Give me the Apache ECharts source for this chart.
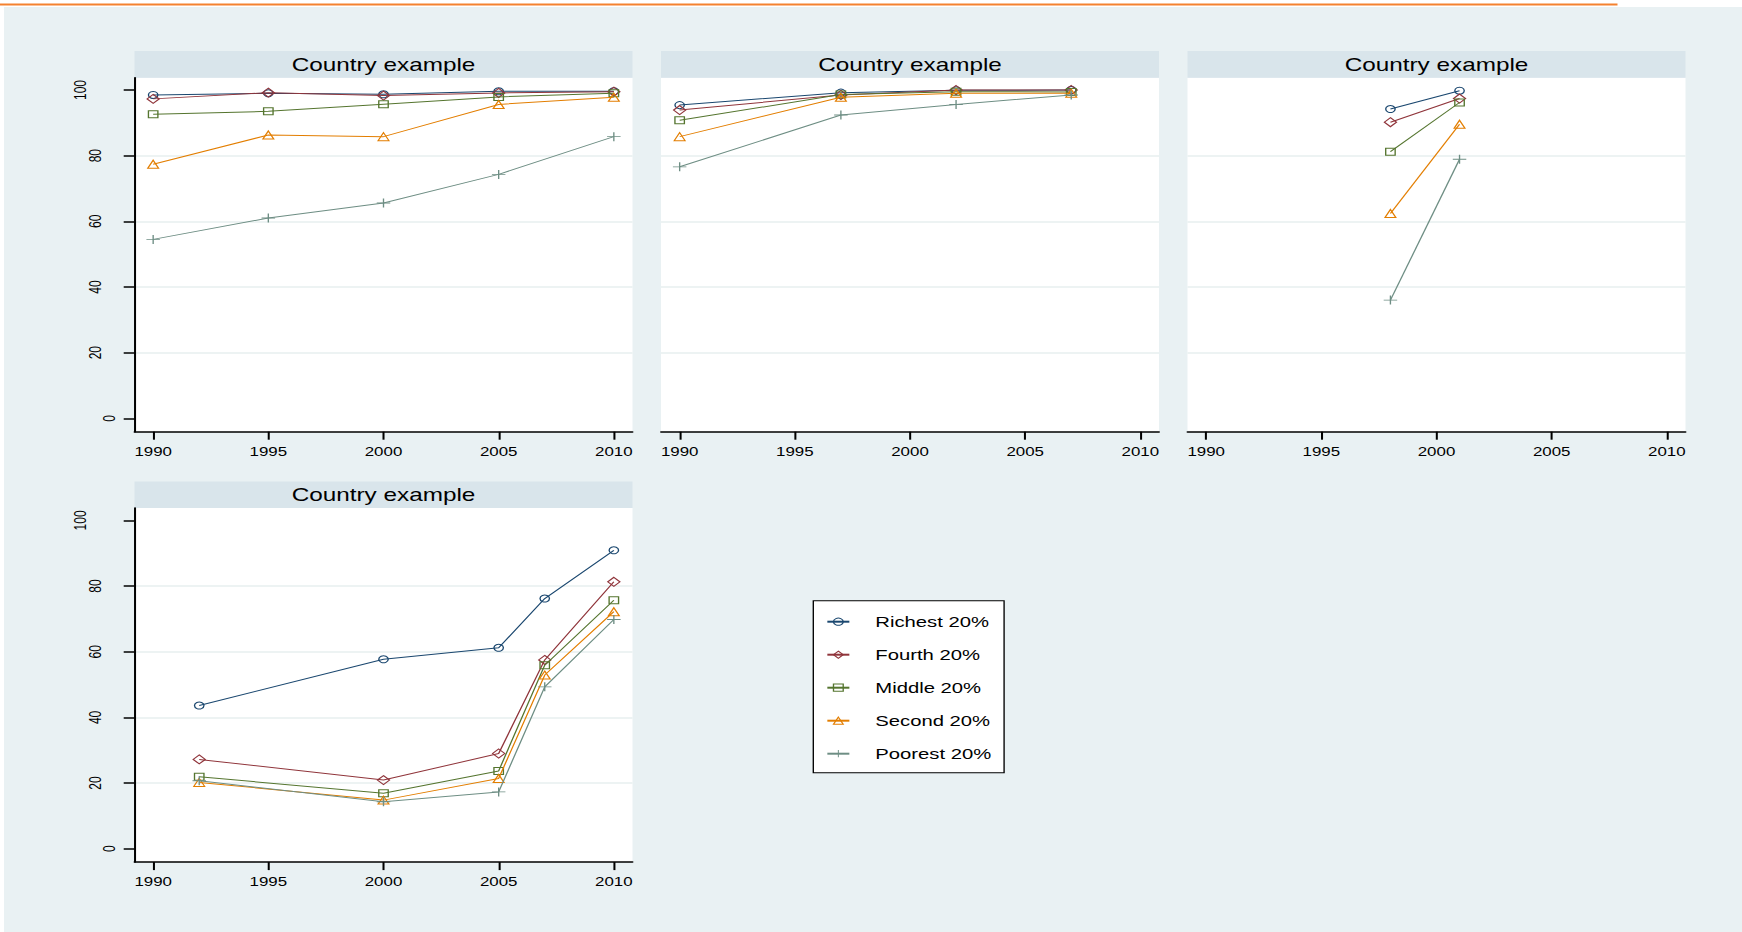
<!DOCTYPE html>
<html>
<head>
<meta charset="utf-8">
<script src="https://cdn.jsdelivr.net/npm/echarts@6/dist/echarts.min.js"></script>
<style>
html,body{margin:0;padding:0;background:#fff;overflow:hidden;}
#chart{width:1290px;height:932px;transform:scaleX(1.350388);transform-origin:0 0;}
</style>
</head>
<body>
<div id="chart"></div>
<script>
// ---------------- data ----------------
const seriesNames = ['Richest 20%', 'Fourth 20%', 'Middle 20%', 'Second 20%', 'Poorest 20%'];
const panelTitles = ['Country example', 'Country example', 'Country example', 'Country example'];
const xTickValues = [1990, 1995, 2000, 2005, 2010];
const yTickValues = [0, 20, 40, 60, 80, 100];

const years1 = [1990, 1995, 2000, 2005, 2010];
const richest1 = [98.5, 99.0, 98.7, 99.6, 99.6];
const fourth1 = [97.3, 99.2, 98.3, 99.1, 99.5];
const middle1 = [92.6, 93.5, 95.7, 97.9, 99.0];
const second1 = [77.4, 86.3, 85.8, 95.6, 97.8];
const poorest1 = [54.5, 61.0, 65.6, 74.3, 85.8];

const years2 = [1990, 1997, 2002, 2007];
const richest2 = [95.4, 99.2, 99.9, 100.0];
const fourth2 = [93.9, 98.5, 100.0, 100.0];
const middle2 = [90.8, 98.6, 99.5, 99.4];
const second2 = [85.8, 97.8, 99.0, 99.0];
const poorest2 = [76.6, 92.4, 95.6, 98.5];

const years3 = [1998, 2001];
const richest3 = [94.2, 99.8];
const fourth3 = [90.2, 97.4];
const middle3 = [81.2, 96.2];
const second3 = [62.4, 89.6];
const poorest3 = [36.0, 78.9];

const years4 = [1992, 2000, 2005, 2007, 2010];
const richest4 = [43.6, 57.7, 61.2, 76.2, 90.9];
const fourth4 = [27.2, 20.9, 29.0, 57.5, 81.3];
const middle4 = [21.9, 16.9, 23.7, 55.9, 75.7];
const second4 = [20.2, 14.8, 21.4, 52.9, 72.2];
const poorest4 = [20.7, 14.3, 17.3, 49.3, 69.8];

// ---------------- layout / style ----------------
const S = 1742 / 1290;            // horizontal stretch of the picture
const X = v => v / S;             // page px -> chart px (x direction)
const FONT = '"Liberation Sans", Arial, Helvetica, sans-serif';
const colors = ['#1a476f', '#90353b', '#55752f', '#e37e00', '#6e8e84'];
const symbols = ['circle', 'diamond', 'rect', 'triangle',
  'path://M0,4.5H10V5.5H0Z M4.5,0H5.5V10H4.5Z'];
const symbolSizes = [7, 9, 7, 8, [10, 9]];

const panelYears = [years1, years2, years3, years4];
const panelValues = [
  [richest1, fourth1, middle1, second1, poorest1],
  [richest2, fourth2, middle2, second2, poorest2],
  [richest3, fourth3, middle3, second3, poorest3],
  [richest4, fourth4, middle4, second4, poorest4]
];
const colLeft = [134.5, 661, 1187.5];
const plotW = 498;
const rowTop = [77.7, 508.1];
const plotH = 354;
const stripH = 26.7;
const panelPos = [[0, 0], [1, 0], [2, 0], [0, 1]];
const panelHasY = [true, false, false, true];

const grids = [], xAxes = [], yAxes = [], series = [], graphics = [];

graphics.push({ type: 'rect', z: -10, silent: true,
  shape: { x: X(4), y: 7, width: X(1742 - 4), height: 932 - 7 },
  style: { fill: '#e9f1f3' } });
graphics.push({ type: 'line', z: -9, silent: true,
  shape: { x1: 0, y1: 4.5, x2: X(1617.5), y2: 4.5 },
  style: { stroke: '#f4812f', lineWidth: 2 } });

const yLabelFormatter = function (v) {
  const n = String(v).length;
  return '{p' + n + '|' + v + '}';
};

panelPos.forEach(function (pos, i) {
  const left = colLeft[pos[0]];
  const top = rowTop[pos[1]];
  grids.push({ left: X(left), top: top, width: X(plotW), height: plotH,
    show: true, backgroundColor: '#ffffff', borderWidth: 0 });
  graphics.push({ type: 'rect', z: 0, silent: true,
    shape: { x: X(left), y: top - stripH, width: X(plotW), height: stripH },
    style: { fill: '#d9e5eb' } });
  graphics.push({ type: 'text', z: 1, silent: true,
    x: X(left + plotW / 2), y: top - stripH / 2 + 0.5,
    style: { text: panelTitles[i], font: '18px ' + FONT, fill: '#000',
      align: 'center', verticalAlign: 'middle' } });

  xAxes.push({ gridIndex: i, type: 'value', min: 1989.19, max: 2010.81,
    axisLine: { show: true, onZero: false, lineStyle: { color: '#000', width: 1.5 } },
    axisTick: { show: true, customValues: xTickValues, length: 8, lineStyle: { color: '#000', width: 1.5 } },
    axisLabel: { show: true, customValues: xTickValues, fontSize: 12.5, color: '#000',
      fontFamily: FONT, margin: 13.5, formatter: function (v) { return String(v); } },
    splitLine: { show: false } });

  const hasY = panelHasY[i];
  yAxes.push({ gridIndex: i, type: 'value', min: -4.08, max: 103.75,
    minInterval: 20, maxInterval: 20,
    axisLine: { show: hasY, onZero: false, lineStyle: { color: '#000', width: 1.5 } },
    axisTick: { show: hasY, customValues: yTickValues, length: 8, lineStyle: { color: '#000', width: 1.5 } },
    axisLabel: { show: hasY, customValues: yTickValues, rotate: 90, margin: 12.5,
      color: '#000', fontFamily: FONT, fontSize: 12,
      formatter: yLabelFormatter,
      rich: {
        p1: { fontSize: 12, fontFamily: FONT, color: '#000', padding: [0, 0, 0, 0] },
        p2: { fontSize: 12, fontFamily: FONT, color: '#000', padding: [0, 0, 10.6, 0] },
        p3: { fontSize: 12, fontFamily: FONT, color: '#000', padding: [0, 0, 21.5, 0] }
      } },
    splitLine: { show: true, showMinLine: false, showMaxLine: false,
      lineStyle: { color: '#e7efef', width: 1.5 } } });

  seriesNames.forEach(function (name, g) {
    const yrs = panelYears[i];
    const vals = panelValues[i][g];
    const isPlus = g === 4;
    series.push({
      type: 'line', name: name, xAxisIndex: i, yAxisIndex: i,
      data: yrs.map(function (yr, k) { return [yr, vals[k]]; }),
      symbol: symbols[g], symbolSize: symbolSizes[g], showAllSymbol: true,
      lineStyle: { color: colors[g], width: 1 },
      itemStyle: isPlus
        ? { color: colors[g], borderWidth: 0 }
        : { color: 'rgba(255,255,255,0)', borderColor: colors[g], borderWidth: 1 },
      emphasis: { disabled: true }, silent: true, z: 2 + g
    });
  });
});

const chart = echarts.init(document.getElementById('chart'), null, { renderer: 'svg' });
chart.setOption({
  animation: false,
  textStyle: { fontFamily: FONT },
  grid: grids, xAxis: xAxes, yAxis: yAxes, series: series,
  graphic: { elements: graphics },
  legend: {
    orient: 'vertical', left: X(813.3), top: 600.7,
    padding: [13.5, 9.5, 11.5, 9.4],
    itemWidth: 16.3, itemHeight: 9, itemGap: 18,
    backgroundColor: '#fff', borderColor: '#000', borderWidth: 1, borderRadius: 0,
    selectedMode: false,
    itemStyle: { borderWidth: 1 },
    textStyle: { fontSize: 15, lineHeight: 15, color: '#000', fontFamily: FONT, padding: [0, 0, 0, 14.2] },
    data: seriesNames
  }
});
</script>
</body>
</html>
